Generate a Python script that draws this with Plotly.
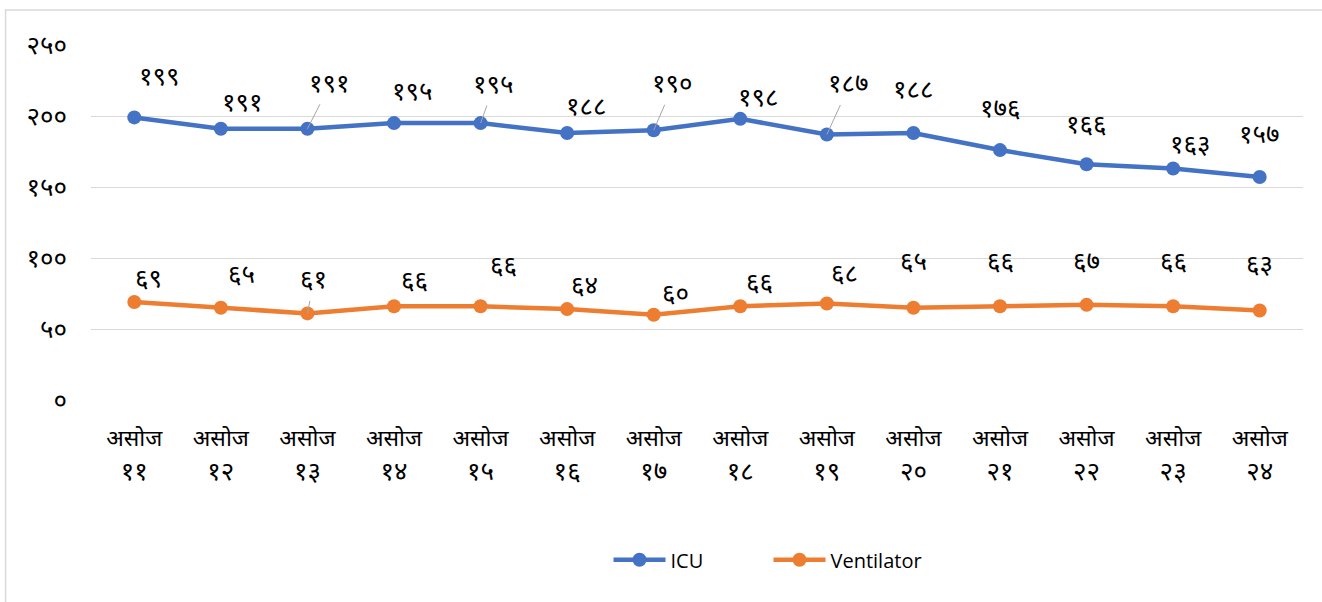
import plotly.graph_objects as go

# ---------------- data ----------------
day_numbers = ["११", "१२", "१३", "१४", "१५", "१६", "१७", "१८", "१९", "२०", "२१", "२२", "२३", "२४"]
month_label = "असोज"

icu_values = [199, 191, 191, 195, 195, 188, 190, 198, 187, 188, 176, 166, 163, 157]
ventilator_values = [69, 65, 61, 66, 66, 64, 60, 66, 68, 65, 66, 67, 66, 63]

y_tick_values = [0, 50, 100, 150, 200, 250]
y_tick_labels = ["०", "५०", "१००", "१५०", "२००", "२५०"]

# ---------------- styling ----------------
DEV_DIGITS = "०१२३४५६७८९"


def to_devanagari(n):
    return "".join(DEV_DIGITS[int(c)] for c in str(n))


categories = [f"<span style='font-size:23px'>{month_label}</span><br>{d}" for d in day_numbers]

# label offsets (px) relative to the point, and whether a leader line is drawn
icu_label_offsets = [(25, -38), (22, -24), (22, -43), (18, -29), (13, -36), (19, -24), (19, -44),
                     (18, -19), (22, -48), (0, -41), (0, -39), (0, -37), (17, -22), (0, -40)]
icu_leaders = [False, False, True, False, True, False, True, False, True, False, False, False, False, False]
vent_label_offsets = [(14, -21), (21, -31), (6, -31), (20, -23), (23, -38), (17, -21), (22, -19),
                      (19, -21), (18, -27), (0, -44), (0, -42), (0, -41), (0, -42), (0, -44)]
vent_leaders = [False, False, True, False, False, False, False, False, False, False, False, False, False, False]

DEV_FONT = "Noto Sans Devanagari, Lohit Devanagari, Mangal, Noto Sans, sans-serif"
BLUE = "#4472C4"
ORANGE = "#ED7D31"

fig = go.Figure()
fig.add_trace(go.Scatter(
    x=categories, y=icu_values, name="ICU", mode="lines+markers",
    line=dict(color=BLUE, width=4.5), marker=dict(color=BLUE, size=14),
))
fig.add_trace(go.Scatter(
    x=categories, y=ventilator_values, name="Ventilator", mode="lines+markers",
    line=dict(color=ORANGE, width=4.5), marker=dict(color=ORANGE, size=14),
))

annotations = []
for values, offsets, leaders in ((icu_values, icu_label_offsets, icu_leaders),
                                 (ventilator_values, vent_label_offsets, vent_leaders)):
    for cat, v, (dx, dy), lead in zip(categories, values, offsets, leaders):
        common = dict(x=cat, y=v, xref="x", yref="y", text=to_devanagari(v),
                      font=dict(family=DEV_FONT, size=26, color="#000000"))
        if lead:
            annotations.append(dict(
                **common, showarrow=True, arrowhead=0, arrowwidth=1, arrowcolor="#A6A6A6",
                ax=dx, ay=dy, standoff=0,
            ))
        else:
            annotations.append(dict(**common, showarrow=False, xshift=dx, yshift=-dy))

fig.update_layout(
    width=1322, height=602,
    margin=dict(l=91, r=19, t=45, b=202),
    paper_bgcolor="white", plot_bgcolor="white",
    showlegend=True,
    legend=dict(orientation="h", x=0.559, xanchor="center", y=-0.45, yanchor="middle",
                font=dict(family="Open Sans, sans-serif", size=20, color="#000000"),
                itemwidth=52, entrywidth=93, tracegroupgap=0),
    annotations=annotations,
    shapes=[dict(type="rect", xref="paper", yref="paper",
                 x0=-0.0705, x1=1.1, y0=-0.7, y1=1.0986,
                 line=dict(color="#D9D9D9", width=1.5), fillcolor="rgba(0,0,0,0)", layer="below")],
)

fig.update_xaxes(
    type="category", range=[-0.5, len(categories) - 0.5],
    showgrid=False, showline=False, zeroline=False,
    tickfont=dict(family=DEV_FONT, size=26, color="#000000"),
    ticklabelstandoff=19,
)
fig.update_yaxes(
    range=[0, 250], tickvals=y_tick_values, ticktext=y_tick_labels,
    showgrid=True, gridcolor="#D9D9D9", gridwidth=1, zeroline=False, showline=False,
    tickfont=dict(family=DEV_FONT, size=26, color="#000000"),
    ticklabelstandoff=23,
)

fig.write_html("out.html", config={"displayModeBar": False},
               post_script="document.body.style.margin='0';")
